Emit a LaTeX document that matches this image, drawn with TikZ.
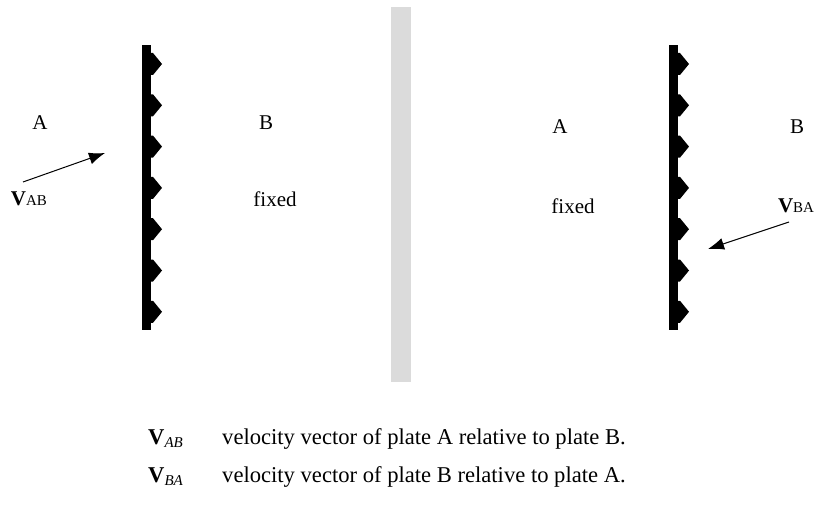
\documentclass[tikz,border=0pt]{standalone}
\usepackage{fontspec}
\setmainfont{Liberation Serif}
\usetikzlibrary{arrows.meta}
\begin{document}
\begin{tikzpicture}[x=1pt,y=-1pt,
  lbl/.style={inner sep=0pt,font=\fontsize{21}{24}\selectfont},
  leg/.style={inner sep=0pt,anchor=base west,font=\fontsize{22.6}{26}\selectfont},
  plate/.style={fill=black,draw=none},
  tooth/.style={fill=black,draw=none},
  vec/.style={-{Latex[length=16pt,width=12pt]},line width=1pt}]
\useasboundingbox (0,0) rectangle (816,505);
% divider
\fill[gray!28] (391,7) rectangle (411,382);
% left plate
\fill[plate] (142,45) rectangle (151,330);
\foreach \y in {64,105.3,146.6,187.9,229.2,270.5,311.8}
  \fill[tooth] (150,\y-11) -- (153,\y-11) -- (162,\y) -- (153,\y+11) -- (150,\y+11) -- cycle;
% right plate
\fill[plate] (669,45) rectangle (678,330);
\foreach \y in {64,105.3,146.6,187.9,229.2,270.5,311.8}
  \fill[tooth] (677,\y-11) -- (680,\y-11) -- (689,\y) -- (680,\y+11) -- (677,\y+11) -- cycle;
% labels left
\node[lbl] (al) at (40,123) {A};
\node[lbl] (bl) at (266,123) {B};
\node[lbl] (vab) at (29,199) {\textbf{V}{\fontsize{15}{17}\selectfont AB}};
\node[lbl] (fl) at (275,199) {fixed};
\coordinate (s1) at (23,182);
\coordinate (e1) at (105,153);
\draw[vec] (s1) -- (e1);
% labels right
\node[lbl] (ar) at (560,127) {A};
\node[lbl] (br) at (797,127) {B};
\node[lbl] (fr) at (573,206) {fixed};
\node[lbl] (vba) at (796,206) {\textbf{V}{\fontsize{15}{17}\selectfont BA}};
\coordinate (s2) at (789,222);
\coordinate (e2) at (708,249);
\draw[vec] (s2) -- (e2);
% legend
\node[leg] (l1s) at (148,444) {\textbf{V}\raisebox{-0.35ex}{\fontsize{15}{17}\selectfont\itshape AB}};
\node[leg] (l1) at (222,444) {velocity vector of plate A relative to plate B.};
\node[leg] (l2s) at (148,482) {\textbf{V}\raisebox{-0.35ex}{\fontsize{15}{17}\selectfont\itshape BA}};
\node[leg] (l2) at (222,482) {velocity vector of plate B relative to plate A.};
\end{tikzpicture}
\end{document}
